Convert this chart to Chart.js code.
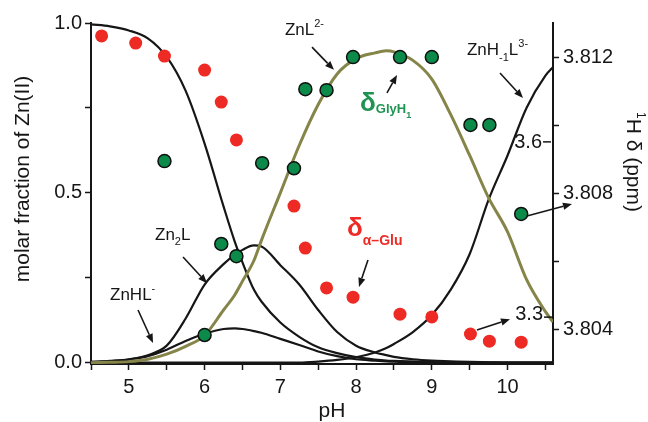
<!DOCTYPE html>
<html>
<head>
<meta charset="utf-8">
<script src="https://cdn.jsdelivr.net/npm/chart.js@4.4.0/dist/chart.umd.min.js"></script>
<style>
  html, body { margin: 0; padding: 0; background: #ffffff; }
  canvas { display: block; }
</style>
</head>
<body>
<canvas id="c" width="648" height="422"></canvas>
<script>
// ---- calculated species distribution (molar fraction of Zn(II)) ----
const pHGrid = [4.5, 4.75, 5.0, 5.25, 5.5, 5.75, 6.0, 6.25, 6.4, 6.5, 6.65, 6.75, 7.0, 7.25, 7.5,
                7.75, 8.0, 8.25, 8.4, 8.5, 8.75, 9.0, 9.25, 9.5, 9.75, 10.0, 10.25, 10.5, 10.6];
const znFree = [0.996, 0.99, 0.978, 0.955, 0.90, 0.80, 0.645, 0.46, 0.355, 0.295, 0.215, 0.18, 0.118, 0.076, 0.045,
                0.028, 0.016, 0.009, 0.006, 0.005, 0.003, 0.002, 0.001, 0, 0, 0, 0, 0, 0];
const znHL   = [0.002, 0.004, 0.009, 0.019, 0.038, 0.064, 0.085, 0.099, 0.101, 0.099, 0.093, 0.088, 0.070, 0.052, 0.033,
                0.019, 0.010, 0.006, 0.004, 0.003, 0.002, 0.001, 0, 0, 0, 0, 0, 0, 0];
const zn2L   = [0.002, 0.005, 0.010, 0.022, 0.05, 0.13, 0.23, 0.29, 0.318, 0.332, 0.345, 0.342, 0.287, 0.23, 0.155,
                0.09, 0.05, 0.03, 0.022, 0.017, 0.010, 0.006, 0.004, 0.002, 0.001, 0, 0, 0, 0];
const znL    = [0, 0.001, 0.003, 0.010, 0.025, 0.048, 0.08, 0.155, 0.20, 0.24, 0.30, 0.36, 0.50, 0.64, 0.76,
                0.85, 0.895, 0.912, 0.918, 0.915, 0.89, 0.835, 0.73, 0.61, 0.485, 0.385, 0.245, 0.15, 0.12];
const znHm1L = [0, 0, 0, 0, 0, 0, 0, 0, 0, 0, 0, 0, 0, 0, 0.003,
                0.008, 0.016, 0.03, 0.043, 0.055, 0.09, 0.14, 0.215, 0.32, 0.48, 0.61, 0.75, 0.845, 0.87];

// ---- 1H NMR chemical shifts (ppm) ----
const pHNmr = [4.64, 5.09, 5.47, 6.00, 6.22, 6.42, 6.76, 7.18, 7.33, 7.61, 7.96, 8.58, 9.00, 9.51, 9.76, 10.18];
const deltaAlphaGlu = [3.81262, 3.81241, 3.81203, 3.81162, 3.81068, 3.80957, 3.80889, 3.80763,
                       3.80640, 3.80523, 3.80496, 3.80446, 3.80438, 3.80388, 3.80367, 3.80364];
const deltaGlyH1 = [null, null, 3.80895, 3.80385, 3.80652, 3.80616, 3.80889, 3.80874,
                    3.81106, 3.81103, 3.81200, 3.81200, 3.81200, 3.81001, 3.81001, 3.80740];

// ---- ticks and tick labels ----
const pHTickValues = [4.5, 5, 5.5, 6, 6.5, 7, 7.5, 8, 8.5, 9, 9.5, 10, 10.5];
const pHTickLabels = ['5', '6', '7', '8', '9', '10'];
const fractionTickValues = [0, 0.25, 0.5, 0.75, 1.0];
const fractionTickLabels = ['0.0', '0.5', '1.0'];
const ppmTickValues = [3.804, 3.806, 3.808, 3.810, 3.812];
const ppmTickLabels = ['3.804', '3.808', '3.812'];

const FAMILY = '"Liberation Sans", Arial, Helvetica, sans-serif';
const INK = '#161616';
const RED = '#ee2a24';
const GREEN = '#0b8a4a';
const GREEN_TEXT = '#1f9452';
const OLIVE = '#858549';

const curve = (values) => pHGrid.map((p, i) => ({ x: p, y: values[i] }));
const points = (values) => pHNmr.map((p, i) => ({ x: p, y: values[i] })).filter(d => d.y !== null);

function curveSet(values, color, width, order) {
  return {
    data: curve(values), yAxisID: 'y', showLine: true, pointRadius: 0,
    borderColor: color, borderWidth: width, cubicInterpolationMode: 'monotone', fill: false, order
  };
}

// species labels, arrows and stray axis marks, placed in (pH, fraction) units
const speciesText = [
  { at: [7.06, 0.965], parts: [['ZnL', 17, 0], ['2-', 11, -8]] },
  { at: [9.464, 0.906], parts: [['ZnH', 17, 0], ['-1', 11, 6], ['L', 17, 0], ['3-', 11, -8]] },
  { at: [5.345, 0.361], parts: [['Zn', 17, 0], ['2', 11, 5], ['L', 17, 0]] },
  { at: [4.751, 0.184], parts: [['ZnHL', 17, 0], ['-', 11, -8]] }
];
const shiftText = [
  { at: [8.052, 0.741], color: GREEN_TEXT, parts: [['δ', 26, 0], ['GlyH', 13, 2], ['1', 9, 7]] },
  { at: [7.88, 0.373], color: RED, parts: [['δ', 26, 0], ['α–Glu', 14, 9]] }
];
const arrows = [
  [[7.418, 0.929], [7.708, 0.862]],
  [[9.900, 0.853], [10.204, 0.779]],
  [[8.408, 0.794], [8.540, 0.847]],
  [[8.157, 0.302], [8.038, 0.223]],
  [[5.715, 0.311], [6.032, 0.234]],
  [[5.121, 0.155], [5.319, 0.058]],
  [[9.596, 0.096], [10.032, 0.128]],
  [[10.256, 0.432], [10.851, 0.467]]
];
const strayMarks = [
  { text: '3.6', at: [10.455, 0.632], dash: [[10.468, 0.650], [10.573, 0.650]] },
  { text: '3.3', at: [10.468, 0.126], dash: [[10.481, 0.134], [10.587, 0.134]] }
];

function drawParts(ctx, x, y, parts, weight, color) {
  ctx.fillStyle = color;
  ctx.textAlign = 'left';
  ctx.textBaseline = 'alphabetic';
  let cx = x;
  for (const [t, size, dy] of parts) {
    ctx.font = `${weight} ${size}px ${FAMILY}`;
    ctx.fillText(t, cx, y + dy);
    cx += ctx.measureText(t).width;
  }
}
function partsWidth(ctx, parts, weight) {
  let w = 0;
  for (const [t, size] of parts) { ctx.font = `${weight} ${size}px ${FAMILY}`; w += ctx.measureText(t).width; }
  return w;
}

const annotate = {
  id: 'annotate',
  afterDraw(chart) {
    const ctx = chart.ctx;
    const sx = chart.scales.x, sy = chart.scales.y;
    const P = ([a, b]) => [sx.getPixelForValue(a), sy.getPixelForValue(b)];
    ctx.save();

    speciesText.forEach(s => { const [x, y] = P(s.at); drawParts(ctx, x, y, s.parts, 'normal', INK); });
    shiftText.forEach(s => { const [x, y] = P(s.at); drawParts(ctx, x, y, s.parts, 'bold', s.color); });

    ctx.strokeStyle = INK; ctx.fillStyle = INK; ctx.lineWidth = 1.6;
    arrows.forEach(([a, b]) => {
      const [x1, y1] = P(a), [x2, y2] = P(b);
      const ang = Math.atan2(y2 - y1, x2 - x1), L = 9, W = 3.6;
      const bx = x2 - L * Math.cos(ang), by = y2 - L * Math.sin(ang);
      ctx.beginPath(); ctx.moveTo(x1, y1); ctx.lineTo(bx, by); ctx.stroke();
      ctx.beginPath();
      ctx.moveTo(x2, y2);
      ctx.lineTo(bx + W * Math.sin(ang), by - W * Math.cos(ang));
      ctx.lineTo(bx - W * Math.sin(ang), by + W * Math.cos(ang));
      ctx.closePath(); ctx.fill();
    });

    strayMarks.forEach(m => {
      const [x, y] = P(m.at);
      ctx.font = `20px ${FAMILY}`; ctx.textAlign = 'right'; ctx.textBaseline = 'alphabetic';
      ctx.fillStyle = INK; ctx.fillText(m.text, x, y);
      const [d1x, d1y] = P(m.dash[0]), [d2x, d2y] = P(m.dash[1]);
      ctx.lineWidth = 1.5; ctx.beginPath(); ctx.moveTo(d1x, d1y); ctx.lineTo(d2x, d2y); ctx.stroke();
    });

    // axis titles
    const area = chart.chartArea;
    ctx.fillStyle = INK;
    ctx.font = `21px ${FAMILY}`;
    ctx.textAlign = 'center'; ctx.textBaseline = 'alphabetic';
    ctx.fillText('pH', (area.left + area.right) / 2 + 10, 417);

    ctx.save();
    ctx.translate(29, 179); ctx.rotate(-Math.PI / 2);
    ctx.fillText('molar fraction of Zn(II)', 0, 0);
    ctx.restore();

    const rightTitle = [['1', 12, -10], ['H δ (ppm)', 21, 0]];
    ctx.save();
    ctx.translate(627, 162); ctx.rotate(Math.PI / 2);
    drawParts(ctx, -partsWidth(ctx, rightTitle, 'normal') / 2, 0, rightTitle, 'normal', INK);
    ctx.restore();

    ctx.restore();
  }
};

const axisCommon = {
  border: { display: true, color: INK, width: 2 },
  grid: { display: true, drawOnChartArea: false, drawTicks: true, tickLength: 6, tickColor: INK, tickWidth: 1.5 },
};
const tickFont = { family: FAMILY, size: 20 };
const useTicks = (values) => (s) => { s.ticks = values.map(v => ({ value: v })); };

new Chart(document.getElementById('c'), {
  type: 'scatter',
  data: {
    datasets: [
      { data: points(deltaGlyH1), yAxisID: 'y2', pointRadius: 6.5, pointBackgroundColor: GREEN,
        pointBorderColor: '#101010', pointBorderWidth: 1.5, showLine: false, order: 1 },
      { data: points(deltaAlphaGlu), yAxisID: 'y2', pointRadius: 6.5, pointBackgroundColor: RED,
        pointBorderColor: RED, pointBorderWidth: 0, showLine: false, order: 2 },
      curveSet(znL, OLIVE, 3, 3),
      curveSet(znFree, INK, 2.2, 4),
      curveSet(zn2L, INK, 2.2, 5),
      curveSet(znHL, INK, 2.2, 6),
      curveSet(znHm1L, INK, 2.2, 7)
    ]
  },
  options: {
    responsive: false,
    devicePixelRatio: 1,
    animation: false,
    events: [],
    layout: { padding: { top: 23, left: 0, right: 0, bottom: 0 } },
    plugins: { legend: { display: false }, tooltip: { enabled: false } },
    scales: {
      x: {
        ...axisCommon, type: 'linear', position: 'bottom', min: 4.5, max: 10.6,
        afterFit: (s) => { s.height = 58; },
        afterBuildTicks: useTicks(pHTickValues),
        ticks: {
          autoSkip: false, maxRotation: 0, padding: 5, color: INK, font: tickFont,
          callback: (v) => { const t = String(Math.round(v * 10) / 10); return pHTickLabels.includes(t) ? t : ''; }
        }
      },
      y: {
        ...axisCommon, type: 'linear', position: 'left', min: -0.004, max: 1.0,
        afterFit: (s) => { s.width = 91; },
        afterBuildTicks: useTicks(fractionTickValues),
        ticks: {
          autoSkip: false, padding: 3, color: INK, font: tickFont,
          callback: (v) => { const t = v.toFixed(2).slice(0, 3); return (fractionTickLabels.includes(t) && v.toFixed(2).endsWith('0')) ? t : ''; }
        }
      },
      y2: {
        ...axisCommon, type: 'linear', position: 'right', min: 3.803, max: 3.813,
        afterFit: (s) => { s.width = 95; },
        afterBuildTicks: useTicks(ppmTickValues),
        ticks: {
          autoSkip: false, padding: 4, color: INK, font: tickFont,
          callback: (v) => { const t = v.toFixed(3); return ppmTickLabels.includes(t) ? t : ''; }
        }
      }
    }
  },
  plugins: [annotate]
});
</script>
</body>
</html>
